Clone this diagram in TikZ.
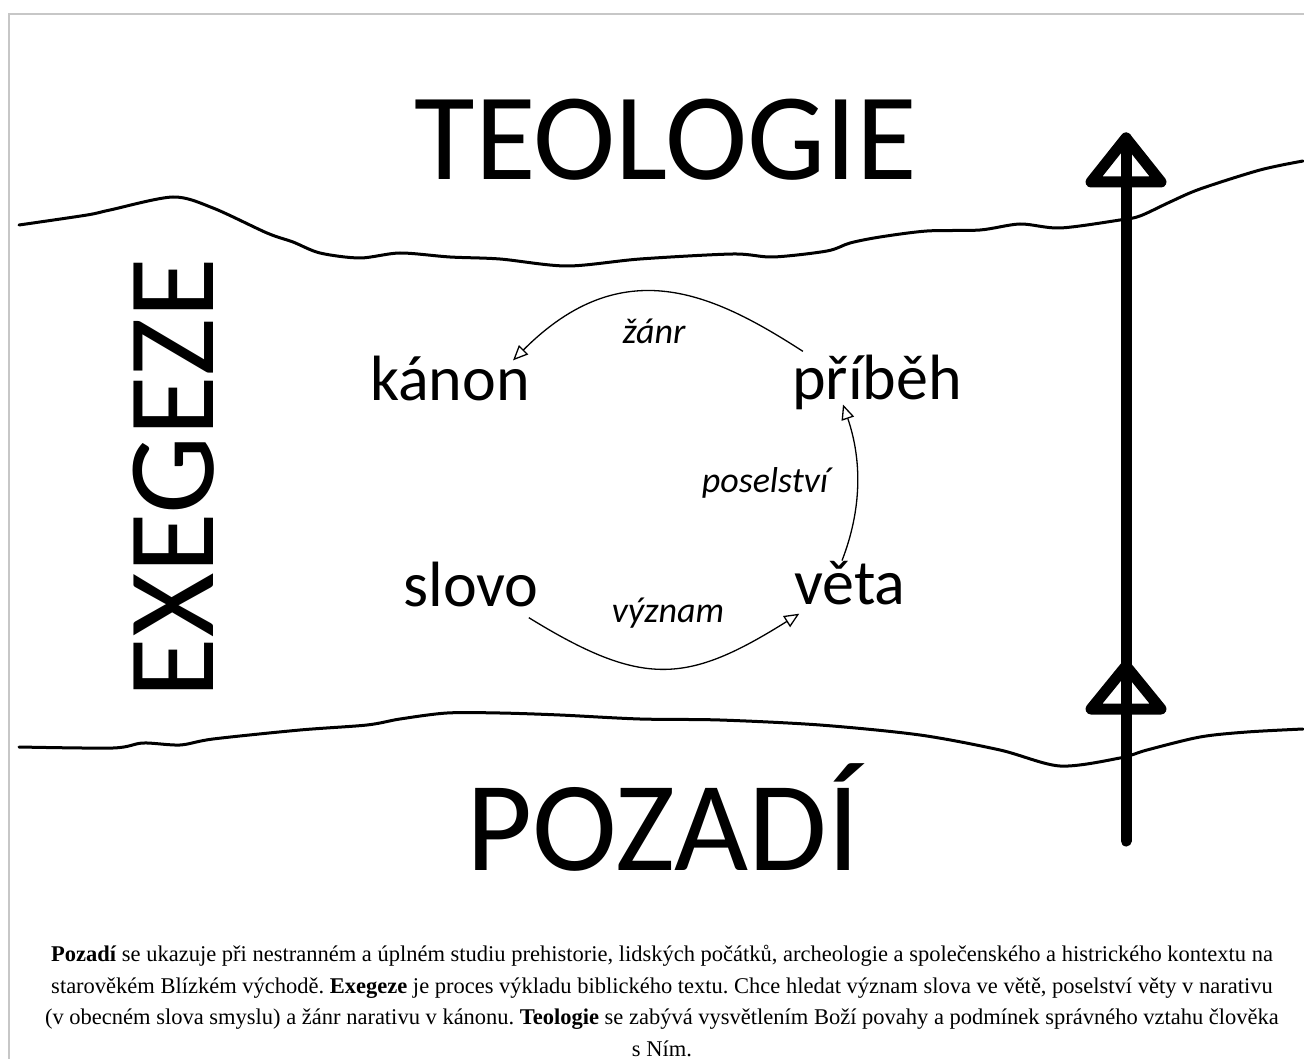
\documentclass[tikz,border=0pt]{standalone}
\usepackage{fontspec}
\setmainfont{Liberation Serif}
\newfontfamily\diagfont{Carlito}
\usetikzlibrary{arrows.meta}
\frenchspacing

\tikzset{
  realm/.style={font={\diagfont\fontsize{124}{124}\selectfont}, inner sep=0pt, anchor=base},
  term/.style={font={\diagfont\fontsize{64}{64}\selectfont}, inner sep=0pt, anchor=base},
  link/.style={font={\diagfont\itshape\fontsize{36}{36}\selectfont}, inner sep=0pt, anchor=base},
  flow/.style={line width=1.3pt, -{Triangle[open, length=15pt, width=13pt]}},
  shore/.style={line width=3pt, line cap=round},
  bigline/.style={line width=11pt, line cap=round, line join=round},
  legendtext/.style={font={\fontsize{22.5}{31.5}\selectfont}, align=center, inner sep=0pt, anchor=base}
}

\begin{document}
\begin{tikzpicture}[x=1pt, y=-1pt]
  \useasboundingbox (0,0) rectangle (1304,1059);
  % frame
  \draw[black!22, line width=2pt] (8.5,1059) |- (1304,14.5);

  % borders between the realms
  \draw[shore] plot[smooth] coordinates {(19,225) (87,215) (110,210) (173,197) (213,208) (267,233) (293,242) (320,253) (360,258) (400,253) (450,257) (500,259) (567,266) (640,259) (733,254) (773,257) (827,251) (850,243) (880,237) (927,231) (980,230) (1020,224) (1060,228) (1120,220) (1140,216) (1170,202) (1200,189) (1260,170) (1303,161)};
  \draw[shore] plot[smooth] coordinates {(19,747) (113,748) (143,743) (180,745) (213,739) (300,730) (367,725) (400,719) (447,713) (500,713) (560,715) (640,719) (720,720) (820,725) (920,735) (1000,750) (1060,766) (1120,758) (1147,750) (1200,737) (1247,732) (1303,729)};

  % realms
  \node[realm] (teologie) at (666,180) {TEOLOGIE};
  \node[realm, font={\diagfont\fontsize{128}{128}\selectfont}] (pozadi) at (663,870) {POZADÍ};
  \node[realm, rotate=90] (exegeze) at (213,478) {EXEGEZE};

  % circle of exegesis
  \node[term] (kanon) at (450,400) {kánon};
  \node[term] (pribeh) at (877,399) {příběh};
  \node[term] (slovo) at (471,606) {slovo};
  \node[term] (veta) at (850,604) {věta};

  \node[link] (zanr) at (654,344) {žánr};
  \node[link] (poselstvi) at (765,492) {poselství};
  \node[link] (vyznam) at (668,622) {význam};

  \draw[flow] ([xshift=-10pt,yshift=-11pt]slovo.south east) .. controls (643,688) and (687,684) .. ([xshift=5pt,yshift=-9pt]veta.south west);
  \draw[flow] ([xshift=-8pt]veta.north) .. controls (862,509) and (862,460) .. ([xshift=-34pt,yshift=5pt]pribeh.south);
  \draw[flow] ([xshift=11pt,yshift=3pt]pribeh.north west) .. controls (714,294) and (623,250) .. ([xshift=-17pt,yshift=-5pt]kanon.north east);

  % from background through exegesis to theology
  \coordinate (groundpt) at (1126,841);
  \coordinate (midpt) at (1126,666);
  \coordinate (skypt) at (1126,138);
  \draw[bigline] (groundpt) -- (skypt);
  \draw[bigline] (skypt) -- ++(-35,44) -- ++(70,0) -- cycle;
  \draw[bigline] (midpt) -- ++(-35,43) -- ++(70,0) -- cycle;

  % caption
  \node[legendtext] (legend) at (662,1056) {\textbf{Pozadí} se ukazuje při nestranném a úplném studiu prehistorie, lidských počátků, archeologie a společenského a histrického kontextu na\\
    starověkém Blízkém východě. \textbf{Exegeze} je proces výkladu biblického textu. Chce hledat význam slova ve větě, poselství věty v narativu\\
    (v obecném slova smyslu) a žánr narativu v kánonu. \textbf{Teologie} se zabývá vysvětlením Boží povahy a podmínek správného vztahu člověka\\
    s Ním.};
\end{tikzpicture}
\end{document}
